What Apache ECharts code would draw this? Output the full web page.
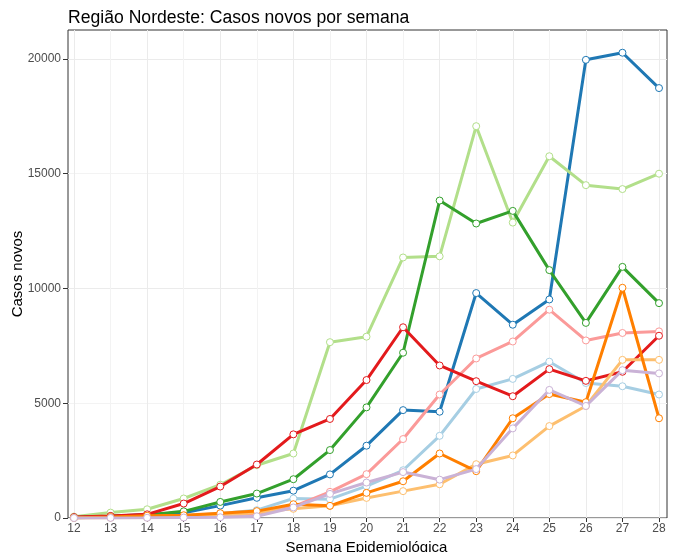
<!DOCTYPE html>
<html lang="pt">
<head>
  <meta charset="utf-8">
  <title>Região Nordeste: Casos novos por semana</title>
  <style>
    html, body { margin: 0; padding: 0; background: #fff; }
    #main { width: 673px; height: 552px; }
  </style>
</head>
<body>
  <div id="main"></div>
  <script src="https://cdn.jsdelivr.net/npm/echarts@6/dist/echarts.min.js"></script>
  <script type="text/javascript">
    // semanas epidemiológicas (eixo x)
    var weeks = [12, 13, 14, 15, 16, 17, 18, 19, 20, 21, 22, 23, 24, 25, 26, 27, 28];
    // marcas do eixo y
    var yTicks = [0, 5000, 10000, 15000, 20000];
    // casos novos por semana, um vetor por série
    var serieLightBlue = [10, 30, 60, 100, 200, 340, 850, 820, 1390, 2080, 3580, 5620, 6060, 6810, 5880, 5740, 5380];
    var serieBlue = [30, 80, 150, 230, 540, 880, 1190, 1900, 3150, 4700, 4630, 9800, 8420, 9520, 19960, 20270, 18730];
    var serieLightGreen = [60, 235, 380, 850, 1450, 2300, 2810, 7660, 7900, 11350, 11400, 17070, 12870, 15760, 14500, 14330, 15000];
    var serieGreen = [30, 80, 130, 290, 700, 1065, 1690, 2960, 4820, 7200, 13830, 12830, 13380, 10800, 8500, 10940, 9360];
    var seriePink = [10, 20, 40, 60, 100, 200, 500, 1140, 1910, 3440, 5380, 6950, 7690, 9075, 7735, 8060, 8130];
    var serieRed = [40, 90, 160, 630, 1370, 2330, 3645, 4315, 6010, 8310, 6645, 5960, 5305, 6485, 5975, 6370, 7940];
    var serieLightOrange = [5, 10, 20, 40, 100, 250, 400, 530, 875, 1170, 1470, 2345, 2725, 4005, 4880, 6890, 6890];
    var serieOrange = [10, 40, 100, 120, 210, 300, 600, 530, 1095, 1600, 2810, 2040, 4345, 5400, 5045, 10030, 4345];
    var seriePurple = [0, 5, 10, 20, 30, 75, 460, 1050, 1545, 2000, 1670, 2130, 3905, 5580, 4880, 6440, 6300];

    var seriesList = [serieLightBlue, serieBlue, serieLightGreen, serieGreen, seriePink, serieRed, serieLightOrange, serieOrange, seriePurple];
    var colors = ['#A6CEE3', '#1F78B4', '#B2DF8A', '#33A02C', '#FB9A99', '#E31A1C', '#FDBF6F', '#FF7F00', '#CAB2D6'];

    var fontFamily = '"Liberation Sans", Arial, sans-serif';
    var yMax = 21260;

    var myChart = echarts.init(document.getElementById('main'));

    var series = seriesList.map(function (vals, i) {
      return {
        type: 'line',
        xAxisIndex: 1,
        yAxisIndex: 1,
        data: weeks.map(function (w, j) { return [w, vals[j]]; }),
        symbol: 'circle',
        symbolSize: 7,
        showSymbol: true,
        color: colors[i],
        itemStyle: { color: '#ffffff', borderColor: colors[i], borderWidth: 1 },
        lineStyle: { color: colors[i], width: 3 },
        emphasis: { disabled: true },
        silent: true,
        z: 10 + i
      };
    });

    var option = {
      animation: false,
      backgroundColor: '#ffffff',
      title: {
        text: 'Região Nordeste: Casos novos por semana',
        left: 63,
        top: 4,
        textStyle: { fontFamily: fontFamily, fontSize: 17.6, fontWeight: 'normal', color: '#000' }
      },
      grid: [
        // painel com borda
        { left: 68, right: 6, top: 30, bottom: 34, outerBoundsMode: 'none', containLabel: false,
          show: true, borderColor: '#333', borderWidth: 1, backgroundColor: 'transparent' },
        // área dos dados (x de 12 a 28)
        { left: 74, right: 14, top: 30, bottom: 34, outerBoundsMode: 'none', containLabel: false }
      ],
      xAxis: [
        { type: 'value', gridIndex: 0, min: 0, max: 1, show: false },
        {
          type: 'value',
          gridIndex: 1,
          min: weeks[0],
          max: weeks[weeks.length - 1],
          interval: 0.5,
          name: 'Semana Epidemiológica',
          nameLocation: 'middle',
          nameGap: 18,
          nameTextStyle: { fontFamily: fontFamily, fontSize: 15, color: '#000' },
          axisLine: { show: false },
          axisTick: { show: true, customValues: weeks, length: 4, lineStyle: { color: '#333' } },
          axisLabel: {
            customValues: weeks,
            margin: 5,
            fontFamily: fontFamily,
            fontSize: 12,
            color: '#4d4d4d',
            formatter: function (v) { return String(v); }
          },
          splitLine: { show: true, lineStyle: { color: ['#EBEBEB', '#F3F3F3'], width: 1 } }
        }
      ],
      yAxis: [
        {
          type: 'value',
          gridIndex: 0,
          min: 0,
          max: yMax,
          interval: 2500,
          name: 'Casos novos',
          nameLocation: 'middle',
          nameGap: 43,
          nameMoveOverlap: false,
          nameTextStyle: { fontFamily: fontFamily, fontSize: 15, color: '#000' },
          axisLine: { show: false },
          axisTick: { show: true, customValues: yTicks, length: 5, lineStyle: { color: '#333' } },
          axisLabel: {
            customValues: yTicks,
            margin: 7,
            fontFamily: fontFamily,
            fontSize: 12,
            color: '#4d4d4d',
            formatter: function (v) { return String(v); }
          },
          splitLine: { show: true, lineStyle: { color: ['#EBEBEB', '#F3F3F3'], width: 1 } }
        },
        { type: 'value', gridIndex: 1, min: 0, max: yMax, show: false }
      ],
      series: series
    };

    myChart.setOption(option);
  </script>
</body>
</html>
